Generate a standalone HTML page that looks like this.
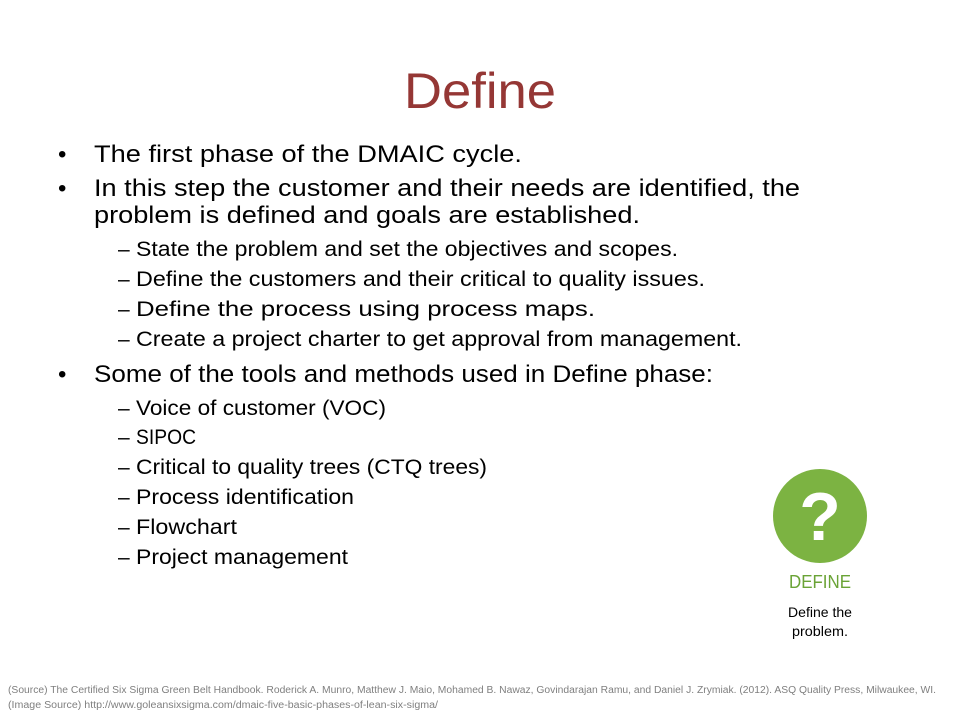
<!DOCTYPE html>
<html><head><meta charset="utf-8"><style>
html,body{margin:0;padding:0;background:#fff;}
svg{display:block;font-family:"Liberation Sans",sans-serif;}
</style></head><body>
<svg width="960" height="720" viewBox="0 0 960 720">
<text x="480" y="108" text-anchor="middle" font-size="50" fill="#953735" textLength="152" lengthAdjust="spacingAndGlyphs">Define</text>
<g font-size="24" fill="#000">
<text x="58" y="162">•</text>
<text x="94" y="162" textLength="428" lengthAdjust="spacingAndGlyphs">The first phase of the DMAIC cycle.</text>
<text x="58" y="196">•</text>
<text x="94" y="196" textLength="706" lengthAdjust="spacingAndGlyphs">In this step the customer and their needs are identified, the</text>
<text x="94" y="223" textLength="546" lengthAdjust="spacingAndGlyphs">problem is defined and goals are established.</text>
<text x="58" y="382">•</text>
<text x="94" y="382" textLength="619" lengthAdjust="spacingAndGlyphs">Some of the tools and methods used in Define phase:</text>
</g>
<g font-size="21" fill="#000">
<text x="118" y="256">–</text><text x="136" y="256" textLength="542" lengthAdjust="spacingAndGlyphs">State the problem and set the objectives and scopes.</text>
<text x="118" y="286">–</text><text x="136" y="286" textLength="569" lengthAdjust="spacingAndGlyphs">Define the customers and their critical to quality issues.</text>
<text x="118" y="316">–</text><text x="136" y="316" textLength="459" lengthAdjust="spacingAndGlyphs">Define the process using process maps.</text>
<text x="118" y="346">–</text><text x="136" y="346" textLength="606" lengthAdjust="spacingAndGlyphs">Create a project charter to get approval from management.</text>
<text x="118" y="415">–</text><text x="136" y="415" textLength="250" lengthAdjust="spacingAndGlyphs">Voice of customer (VOC)</text>
<text x="118" y="444">–</text><text x="136" y="444" textLength="60" lengthAdjust="spacingAndGlyphs">SIPOC</text>
<text x="118" y="474">–</text><text x="136" y="474" textLength="351" lengthAdjust="spacingAndGlyphs">Critical to quality trees (CTQ trees)</text>
<text x="118" y="504">–</text><text x="136" y="504" textLength="218" lengthAdjust="spacingAndGlyphs">Process identification</text>
<text x="118" y="534">–</text><text x="136" y="534" textLength="101" lengthAdjust="spacingAndGlyphs">Flowchart</text>
<text x="118" y="564">–</text><text x="136" y="564" textLength="212" lengthAdjust="spacingAndGlyphs">Project management</text>
</g>
<g>
<circle cx="820" cy="516" r="47" fill="#7cb342"/>
<text x="820" y="540" text-anchor="middle" font-size="68" font-weight="bold" fill="#fff">?</text>
<text x="820" y="588" text-anchor="middle" font-size="18" fill="#6aa336" textLength="62" lengthAdjust="spacingAndGlyphs">DEFINE</text>
<text x="820" y="617" text-anchor="middle" font-size="14" fill="#000" textLength="64" lengthAdjust="spacingAndGlyphs">Define the</text>
<text x="820" y="636" text-anchor="middle" font-size="14" fill="#000" textLength="56" lengthAdjust="spacingAndGlyphs">problem.</text>
</g>
<g font-size="10" fill="#7f7f7f">
<text x="8" y="693" textLength="928" lengthAdjust="spacingAndGlyphs">(Source) The Certified Six Sigma Green Belt Handbook. Roderick A. Munro, Matthew J. Maio, Mohamed B. Nawaz, Govindarajan Ramu, and Daniel J. Zrymiak. (2012). ASQ Quality Press,  Milwaukee, WI.</text>
<text x="8" y="708" textLength="430" lengthAdjust="spacingAndGlyphs">(Image Source) http://www.goleansixsigma.com/dmaic-five-basic-phases-of-lean-six-sigma/</text>
</g>
</svg>
</body></html>
